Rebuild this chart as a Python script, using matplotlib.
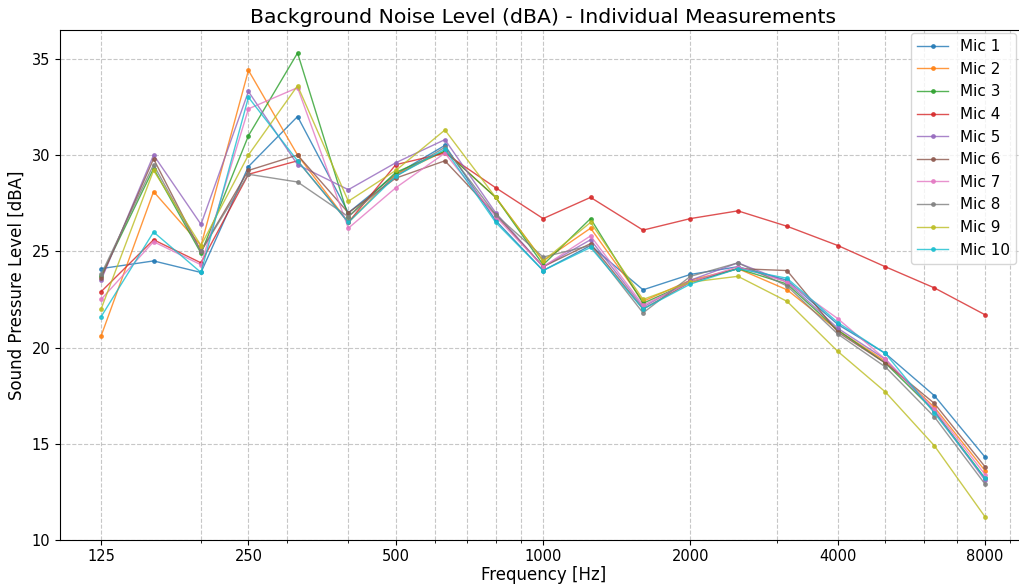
import numpy as np
import matplotlib
matplotlib.use("Agg")
from matplotlib import pyplot as plt
from matplotlib.ticker import NullFormatter

# 1/3オクターブバンド中心周波数
freqs = [125, 160, 200, 250, 315, 400, 500, 630, 800, 1000,
         1250, 1600, 2000, 2500, 3150, 4000, 5000, 6300, 8000]

# 各マイクの測定値 [dBA]
mic1 = [24.1, 24.5, 23.9, 29.4, 32.0, 27.0, 29.0, 30.5, 26.6, 24.0, 25.3, 23.0, 23.8, 24.2, 23.5, 21.2, 19.7, 17.5, 14.3]
mic2 = [20.6, 28.1, 25.3, 34.4, 30.0, 26.5, 29.0, 30.2, 27.8, 24.5, 26.2, 22.4, 23.5, 24.1, 23.0, 20.9, 19.3, 16.9, 13.6]
mic3 = [23.7, 29.3, 24.9, 31.0, 35.3, 26.8, 29.1, 30.2, 27.8, 24.3, 26.7, 22.3, 23.4, 24.1, 23.3, 20.9, 19.2, 16.7, 13.2]
mic4 = [22.9, 25.6, 24.4, 29.0, 29.7, 26.5, 29.5, 30.1, 28.3, 26.7, 27.8, 26.1, 26.7, 27.1, 26.3, 25.3, 24.2, 23.1, 21.7]
mic5 = [23.5, 30.0, 26.4, 33.3, 29.5, 28.2, 29.6, 30.8, 27.0, 24.2, 25.6, 22.1, 23.5, 24.4, 23.4, 21.0, 19.4, 16.7, 13.1]
mic6 = [23.6, 29.8, 25.0, 29.2, 30.0, 27.0, 28.8, 29.7, 26.9, 24.2, 25.4, 22.0, 23.4, 24.1, 24.0, 20.8, 19.2, 17.1, 13.8]
mic7 = [22.5, 25.5, 24.3, 32.4, 33.5, 26.2, 28.3, 30.1, 26.8, 24.2, 25.8, 22.2, 23.4, 24.2, 23.4, 21.5, 19.4, 16.8, 13.4]
mic8 = [23.8, 29.5, 25.0, 29.0, 28.6, 26.8, 28.9, 30.4, 26.9, 24.7, 25.3, 21.8, 23.7, 24.4, 23.2, 20.7, 19.0, 16.4, 12.9]
mic9 = [22.0, 29.2, 25.3, 30.0, 33.6, 27.6, 29.2, 31.3, 27.8, 24.5, 26.5, 22.5, 23.4, 23.7, 22.4, 19.8, 17.7, 14.9, 11.2]
mic10 = [21.6, 26.0, 23.9, 33.0, 29.7, 26.5, 28.9, 30.3, 26.5, 24.0, 25.2, 22.0, 23.3, 24.1, 23.6, 21.3, 19.7, 16.6, 13.2]

mics = [mic1, mic2, mic3, mic4, mic5, mic6, mic7, mic8, mic9, mic10]
labels = ["Mic %d" % (i + 1) for i in range(len(mics))]

# 軸目盛
xticks = [125, 250, 500, 1000, 2000, 4000, 8000]
xtick_labels = ["125", "250", "500", "1000", "2000", "4000", "8000"]

fig, ax = plt.subplots(figsize=(10.19, 5.84), dpi=100)
# 右端は元画像で少し切れているので軸を図の外まで伸ばす
plt.subplots_adjust(left=0.059, right=1.007, bottom=0.075, top=0.949)

for vals, lab in zip(mics, labels):
    ax.plot(freqs, vals, marker="o", markersize=2.5, linewidth=1.0, alpha=0.8, label=lab)

ax.set_xscale("log")
ax.set_xlim(125 / 2 ** 0.278, 8000 * 2 ** 0.278)
ax.set_xticks(xticks)
ax.set_xticklabels(xtick_labels)
ax.xaxis.set_minor_formatter(NullFormatter())
ax.tick_params(labelsize=10.5)
ax.tick_params(axis="x", pad=3)

ax.grid(True, which="both", linestyle="--", color="#b0b0b0", alpha=0.7, linewidth=0.8)

ax.set_title("Background Noise Level (dBA) - Individual Measurements", fontsize=14.7, pad=5)
ax.set_xlabel("Frequency [Hz]", fontsize=12, labelpad=1)
ax.set_ylabel("Sound Pressure Level [dBA]", fontsize=12)
ax.legend(loc="upper right", fontsize=11, borderaxespad=0,
          bbox_to_anchor=(0.9897, 0.994))

plt.savefig("out.png", dpi=100)
